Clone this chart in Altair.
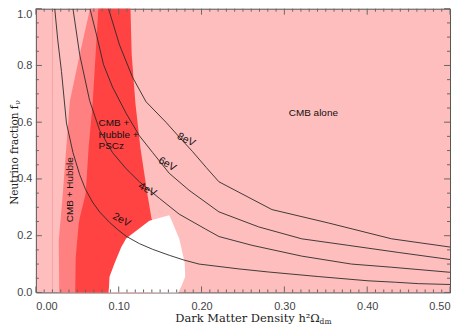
import altair as alt
import pandas as pd

W, H = 416, 285

# ---------------- data ----------------
# CMB + Hubble region: horizontal band, for each f the omega range
hub_f = [1.000, 0.838, 0.672, 0.348, 0.183, 0.000]
hub_left = [0.0653, 0.0529, 0.0409, 0.0325, 0.0276, 0.0282]
hub_right = [0.090, 0.090, 0.090, 0.090, 0.090, 0.090]

# CMB + Hubble + PSCz region
psc_f = [1.000, 0.838, 0.666, 0.510, 0.348, 0.262, 0.241, 0.124, 0.000]
psc_left = [0.0754, 0.0721, 0.0685, 0.0637, 0.0601, 0.0529, 0.0517, 0.0481, 0.0475]
psc_right = [0.1142, 0.1157, 0.1202, 0.1262, 0.1346, 0.1395, 0.1418, 0.1430, 0.1430]

# excluded (white) region
hole_f = [0.272, 0.253, 0.190, 0.159, 0.103, 0.055, 0.021, 0.000]
hole_left = [0.161, 0.137, 0.109, 0.103, 0.095, 0.0889, 0.0883, 0.0877]
hole_right = [0.161, 0.164, 0.173, 0.1755, 0.1797, 0.1803, 0.1755, 0.1719]

# neutrino mass contours
omega_2 = [0.0228, 0.0264, 0.0309, 0.0369, 0.0448, 0.0529, 0.0601, 0.0685, 0.0769, 0.0889,
           0.0986, 0.109, 0.125, 0.141, 0.161, 0.179, 0.197, 0.245, 0.281, 0.341, 0.401,
           0.434, 0.462, 0.500]
f_2 = [1.000, 0.890, 0.779, 0.597, 0.493, 0.415, 0.362, 0.318, 0.284, 0.247,
       0.222, 0.198, 0.172, 0.152, 0.131, 0.114, 0.100, 0.083, 0.072, 0.056, 0.041,
       0.036, 0.031, 0.028]
omega_4 = [0.0448, 0.0529, 0.0649, 0.0769, 0.0925, 0.109, 0.125, 0.149, 0.173, 0.205,
           0.221, 0.261, 0.321, 0.381, 0.429, 0.500]
f_4 = [1.000, 0.838, 0.676, 0.572, 0.493, 0.436, 0.390, 0.332, 0.276, 0.223,
       0.197, 0.166, 0.128, 0.100, 0.089, 0.071]
omega_6 = [0.0653, 0.0733, 0.0817, 0.0925, 0.109, 0.125, 0.141, 0.161, 0.185, 0.221,
           0.269, 0.321, 0.377, 0.4375, 0.500]
f_6 = [1.000, 0.907, 0.803, 0.724, 0.631, 0.552, 0.493, 0.420, 0.360, 0.284,
       0.231, 0.189, 0.166, 0.141, 0.116]
omega_8 = [0.0877, 0.101, 0.1166, 0.133, 0.157, 0.173, 0.189, 0.2055, 0.221, 0.285,
           0.353, 0.4295, 0.500]
f_8 = [1.000, 0.872, 0.759, 0.672, 0.600, 0.548, 0.497, 0.441, 0.390, 0.292,
       0.245, 0.189, 0.160]

mass_labels = ["2eV", "4eV", "6eV", "8eV"]
label_omega = [0.1034, 0.1346, 0.1587, 0.1815]
label_f = [0.255, 0.362, 0.452, 0.538]
label_angle = [28, 29, 30, 27]

x_major = [0.0, 0.1, 0.2, 0.3, 0.4, 0.5]
x_minor = [round(i * 0.01, 2) for i in range(51) if i % 10 != 0]
y_major = [0.0, 0.2, 0.4, 0.6, 0.8, 1.0]
y_minor = [round(i * 0.05, 2) for i in range(21) if i % 4 != 0]

C_LIGHT = "#FFBEBE"
C_MED = "#FF8080"
C_RED = "#FF4343"

xs = alt.Scale(domain=[0, 0.5], nice=False, zero=False)
ys = alt.Scale(domain=[0, 1], nice=False, zero=False)


def band(f, left, right, color):
    df = pd.DataFrame({"f": f, "l": left, "r": right})
    return alt.Chart(df).mark_area(orient="horizontal", color=color, opacity=1).encode(
        y=alt.Y("f:Q", scale=ys, axis=None),
        x=alt.X("l:Q", scale=xs, axis=None),
        x2="r:Q",
    )


# axis carrier layer (invisible), holds the tick labels
axis_layer = alt.Chart(pd.DataFrame({"x": x_major, "y": y_major})).mark_point(opacity=0).encode(
    x=alt.X("x:Q", scale=xs,
            axis=alt.Axis(values=x_major, format=".2f", ticks=False, domain=False,
                          grid=False, labelPadding=8, labelFontSize=11, labelColor="#444",
                          labelFont="Liberation Sans", title=None)),
    y=alt.Y("y:Q", scale=ys,
            axis=alt.Axis(values=y_major, format=".1f", ticks=False, domain=False,
                          grid=False, labelPadding=4, labelFontSize=11, labelColor="#444",
                          labelFont="Liberation Sans", title=None,
                          labelBaseline={"condition": {"test": "datum.value >= 0.99", "value": "top"},
                                         "value": "middle"})),
)

rows = []
for m, om, ff in zip(mass_labels, [omega_2, omega_4, omega_6, omega_8], [f_2, f_4, f_6, f_8]):
    for i, (a, b) in enumerate(zip(om, ff)):
        rows.append({"omega": a, "f": b, "m": m, "i": i})
curve_df = pd.DataFrame(rows)

curves = alt.Chart(curve_df).mark_line(color="#2a2a2a", strokeWidth=0.9, clip=True).encode(
    x=alt.X("omega:Q", scale=xs, axis=None),
    y=alt.Y("f:Q", scale=ys, axis=None),
    detail="m:N",
    order="i:Q",
)

edge_line = alt.Chart(pd.DataFrame({"v": [0.02]})).mark_rule(color="#F4A4A4", strokeWidth=1).encode(
    x=alt.X("v:Q", scale=xs, axis=None)
)

layers = [
    axis_layer,
    band(hub_f, hub_left, hub_right, C_MED),
    band(psc_f, psc_left, psc_right, C_RED),
    band(hole_f, hole_left, hole_right, "#FFFFFF"),
    edge_line,
    curves,
]

# contour labels
for t, a, b, ang in zip(mass_labels, label_omega, label_f, label_angle):
    layers.append(
        alt.Chart(pd.DataFrame({"x": [a], "y": [b], "t": [t]})).mark_text(
            angle=ang, fontSize=10.5, font="Liberation Sans", color="#111"
        ).encode(x=alt.X("x:Q", scale=xs, axis=None), y=alt.Y("y:Q", scale=ys, axis=None), text="t:N")
    )

# region labels
region_text = pd.DataFrame({
    "x": [0.335, 0.0757, 0.0757, 0.0757],
    "y": [0.631, 0.597, 0.556, 0.516],
    "t": ["CMB alone", "CMB +", "Hubble +", "PSCz"],
    "a": ["center", "left", "left", "left"],
})
layers.append(
    alt.Chart(region_text[region_text.a == "center"]).mark_text(
        fontSize=10, font="Liberation Sans", color="#111", align="center"
    ).encode(x=alt.X("x:Q", scale=xs, axis=None), y=alt.Y("y:Q", scale=ys, axis=None), text="t:N")
)
layers.append(
    alt.Chart(region_text[region_text.a == "left"]).mark_text(
        fontSize=10, font="Liberation Sans", color="#111", align="left"
    ).encode(x=alt.X("x:Q", scale=xs, axis=None), y=alt.Y("y:Q", scale=ys, axis=None), text="t:N")
)
layers.append(
    alt.Chart(pd.DataFrame({"x": [0.0409], "y": [0.362], "t": ["CMB + Hubble"]})).mark_text(
        fontSize=10, font="Liberation Sans", color="#111", angle=270
    ).encode(x=alt.X("x:Q", scale=xs, axis=None), y=alt.Y("y:Q", scale=ys, axis=None), text="t:N")
)

# inward ticks on all four sides
TICK = "#666"


def xticks(vals, length, top):
    df = pd.DataFrame({"v": vals})
    y0, y1 = (0, length) if top else (H, H - length)
    return alt.Chart(df).mark_rule(color=TICK, strokeWidth=1).encode(
        x=alt.X("v:Q", scale=xs, axis=None), y=alt.value(y0), y2=alt.value(y1))


def yticks(vals, length, right):
    df = pd.DataFrame({"v": vals})
    x0, x1 = (W, W - length) if right else (0, length)
    return alt.Chart(df).mark_rule(color=TICK, strokeWidth=1).encode(
        y=alt.Y("v:Q", scale=ys, axis=None), x=alt.value(x0), x2=alt.value(x1))


for top in (False, True):
    layers.append(xticks(x_major, 6, top))
    layers.append(xticks(x_minor, 3, top))
for right in (False, True):
    layers.append(yticks(y_major, 6, right))
    layers.append(yticks(y_minor, 3, right))

# axis titles
layers.append(
    alt.Chart(pd.DataFrame({"t": ["Dark Matter Density h\u00b2\u03a9"]})).mark_text(
        font="DejaVu Serif", fontSize=11.5, color="#222", align="left", baseline="alphabetic"
    ).encode(x=alt.value(140), y=alt.value(315), text="t:N")
)
layers.append(
    alt.Chart(pd.DataFrame({"t": ["dm"]})).mark_text(
        font="DejaVu Serif", fontSize=7.5, color="#222", align="left", baseline="alphabetic"
    ).encode(x=alt.value(285), y=alt.value(316.5), text="t:N")
)
layers.append(
    alt.Chart(pd.DataFrame({"t": ["Neutrino fraction f"]})).mark_text(
        font="DejaVu Serif", fontSize=10.5, color="#222", align="right", baseline="alphabetic", angle=270
    ).encode(x=alt.value(-18), y=alt.value(97), text="t:N")
)
layers.append(
    alt.Chart(pd.DataFrame({"t": ["\u03bd"]})).mark_text(
        font="DejaVu Serif", fontSize=7.5, color="#222", align="right", baseline="alphabetic", angle=270
    ).encode(x=alt.value(-16), y=alt.value(92), text="t:N")
)

chart = alt.layer(*layers).resolve_axis(x="independent", y="independent").properties(
    width=W, height=H,
    autosize=alt.AutoSizeParams(type="none"),
    padding={"left": 28, "top": 0, "right": 5, "bottom": 34},
).configure_view(fill=C_LIGHT, stroke="#555", strokeWidth=1)

chart.save("out.html", embed_options={"renderer": "svg", "actions": False})
